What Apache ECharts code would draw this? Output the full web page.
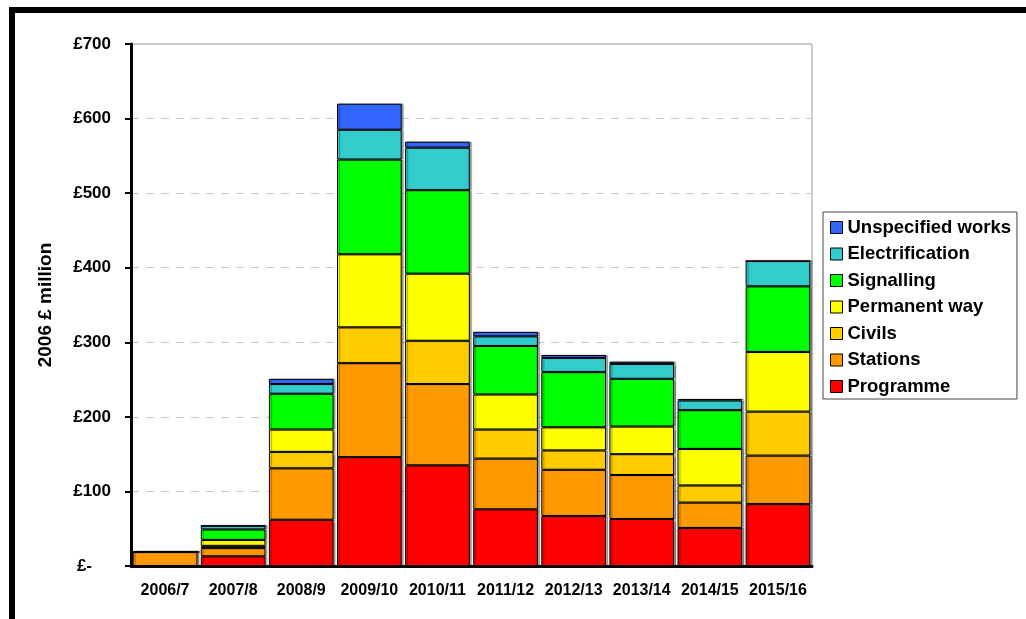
<!DOCTYPE html>
<html>
<head>
<meta charset="utf-8">
<script src="https://cdn.jsdelivr.net/npm/echarts@6/dist/echarts.min.js"></script>
<style>
  html, body { margin: 0; padding: 0; background: #fff; }
  #chart { width: 1026px; height: 619px; }
</style>
</head>
<body>
<div id="chart"></div>
<script>
// Annual spend by work type, 2006 £ million
const years = ['2006/7', '2007/8', '2008/9', '2009/10', '2010/11', '2011/12', '2012/13', '2013/14', '2014/15', '2015/16'];

const programme       = [0, 13, 62, 146, 135, 76, 67, 63, 51, 83];
const stations        = [19, 11, 69, 126, 109, 68, 62, 59, 34, 65];
const civils          = [0, 3, 22, 48, 58, 39, 26, 28, 23, 59];
const permanentWay    = [0, 8, 30, 98, 90, 47, 31, 37, 49, 80];
const signalling      = [0, 14, 48, 127, 112, 65, 74, 64, 52, 88];
const electrification = [0, 5, 13, 40, 57, 13, 19, 20, 13, 34];
const unspecified     = [0, 0, 7, 35, 8, 6, 4, 3, 2, 0];

const yTicks = [0, 100, 200, 300, 400, 500, 600, 700];

const FONT = 'Arial, "Liberation Sans", sans-serif';

// Bottom-to-top stacking order
const layers = [
  { name: 'Programme',         data: programme,       color: '#FF0000' },
  { name: 'Stations',          data: stations,        color: '#FF9900' },
  { name: 'Civils',            data: civils,          color: '#FFCC00' },
  { name: 'Permanent way',     data: permanentWay,    color: '#FFFF00' },
  { name: 'Signalling',        data: signalling,      color: '#00FF00' },
  { name: 'Electrification',   data: electrification, color: '#33CCCC' },
  { name: 'Unspecified works', data: unspecified,     color: '#3366FF' }
];

const chart = echarts.init(document.getElementById('chart'), null, { renderer: 'canvas' });

chart.setOption({
  backgroundColor: '#ffffff',
  animation: false,
  textStyle: { fontFamily: FONT },
  grid: {
    left: 131, right: 214, top: 44, bottom: 53,
    show: true, borderColor: '#9a9a9a', borderWidth: 1, backgroundColor: 'transparent'
  },
  legend: {
    orient: 'vertical',
    left: 823, top: 212,
    padding: [6, 6, 3, 7],
    itemGap: 7.5,
    itemWidth: 12, itemHeight: 12,
    borderColor: '#444', borderWidth: 1,
    backgroundColor: '#fff',
    icon: 'rect',
    itemStyle: { borderColor: '#000', borderWidth: 1 },
    textStyle: { fontFamily: FONT, fontSize: 18.5, fontWeight: 'bold', color: '#000' },
    data: layers.map(l => l.name).reverse()
  },
  xAxis: {
    type: 'category',
    data: years,
    axisLine: { lineStyle: { color: '#000', width: 3 } },
    axisTick: { show: false },
    axisLabel: {
      interval: 0, hideOverlap: false,
      fontFamily: FONT, fontSize: 16, fontWeight: 'bold', color: '#000', margin: 17
    }
  },
  yAxis: {
    type: 'value',
    min: yTicks[0], max: yTicks[yTicks.length - 1], interval: 100,
    name: '2006 £ million',
    nameLocation: 'middle',
    nameRotate: 90,
    nameGap: 76,
    nameTextStyle: { fontFamily: FONT, fontSize: 19, fontWeight: 'bold', color: '#000' },
    axisLine: { show: true, lineStyle: { color: '#000', width: 3 } },
    axisTick: { show: true, length: 6, lineStyle: { color: '#000', width: 2 } },
    axisLabel: {
      fontFamily: FONT, fontSize: 17, fontWeight: 'bold', color: '#000', margin: 20,
      formatter: v => v === 0 ? '{z|£-}' : '£' + v,
      rich: { z: { fontFamily: FONT, fontSize: 17, fontWeight: 'bold', color: '#000', padding: [0, 19, 0, 0] } }
    },
    splitLine: { show: true, lineStyle: { color: '#c8c8c8', width: 1, type: [8, 7] } }
  },
  series: layers.map(l => ({
    name: l.name,
    type: 'bar',
    stack: 'total',
    barCategoryGap: '5%',
    data: l.data,
    itemStyle: {
      color: l.color,
      borderColor: '#000',
      borderWidth: 1,
      shadowColor: 'rgba(0,0,0,0.35)',
      shadowOffsetX: 2,
      shadowOffsetY: 0,
      shadowBlur: 1
    },
    emphasis: { disabled: true }
  })),
  graphic: [
    { type: 'rect', shape: { x: 9, y: 7, width: 1017, height: 6 }, style: { fill: '#000' }, silent: true },
    { type: 'rect', shape: { x: 9, y: 7, width: 6, height: 612 }, style: { fill: '#000' }, silent: true }
  ]
});
</script>
</body>
</html>
